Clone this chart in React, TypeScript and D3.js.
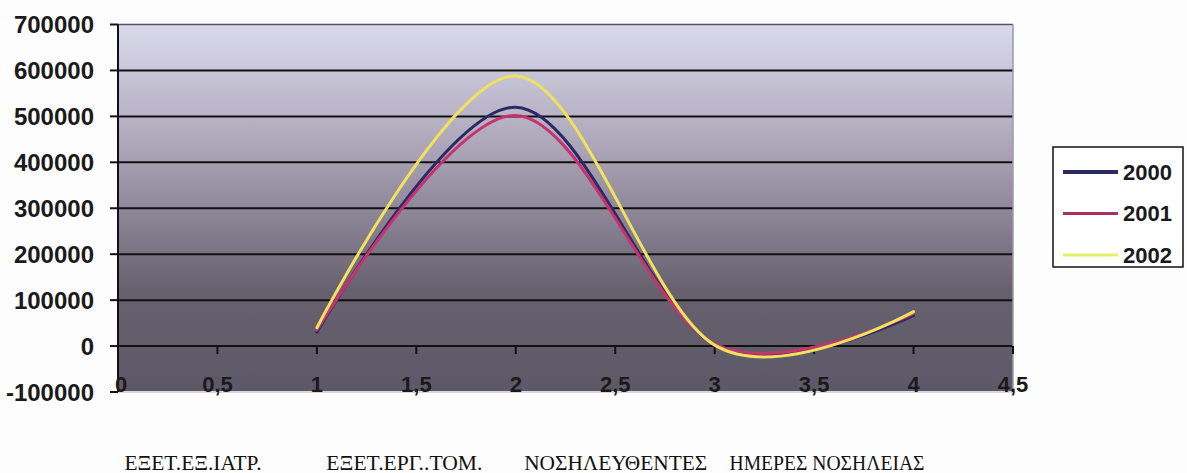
import * as d3 from 'd3';

const categories = ['ΕΞΕΤ.ΕΞ.ΙΑΤΡ.', 'ΕΞΕΤ.ΕΡΓ..ΤΟΜ.', 'ΝΟΣΗΛΕΥΘΕΝΤΕΣ', 'ΗΜΕΡΕΣ ΝΟΣΗΛΕΙΑΣ'];
const xValues = [1, 2, 3, 4];
const years = ['2000', '2001', '2002'];
const values2000 = [30000, 520000, 3000, 67000];
const values2001 = [35000, 502000, 5000, 71000];
const values2002 = [40000, 588000, 2000, 75000];
const yTicks = [700000, 600000, 500000, 400000, 300000, 200000, 100000, 0, -100000];
const xTicks = [0, 0.5, 1, 1.5, 2, 2.5, 3, 3.5, 4, 4.5];

const seriesValues = [values2000, values2001, values2002];
const colors = ['#2b2a66', '#c8336e', '#f0e25c'];
const legendColors = ['#2b2b5e', '#a8325f', '#e4f06a'];
const labelWidths = [137, 156, 183, 195];

const W = 1187;
const H = 473;
const plot = {left: 118, right: 1013, top: 24.5, bottom: 392};

export default function App() {
    const x = d3.scaleLinear().domain([0, 4.5]).range([plot.left, plot.right]);
    const y = d3.scaleLinear().domain([-100000, 700000]).range([plot.bottom, plot.top]);
    const catX = d3.scalePoint<string>().domain(categories).range([193, 827]);

    const line = d3
        .line<number>()
        .x((_, i) => x(xValues[i]))
        .y((d) => y(d))
        .curve(d3.curveCardinal.tension(0));

    const fmtX = (v: number) => String(v).replace('.', ',');

    return (
        <svg
            width={W}
            height={H}
            style={{position: 'absolute', left: 0, top: 0, background: '#fdfdfd'}}
        >
            <defs>
                <linearGradient id="bg" x1="0" y1="0" x2="0" y2="1">
                    <stop offset="0%" stopColor="#dadaec" />
                    <stop offset="35%" stopColor="#aaa3b6" />
                    <stop offset="72%" stopColor="#67616f" />
                    <stop offset="100%" stopColor="#5d5867" />
                </linearGradient>
            </defs>

            <rect
                x={plot.left}
                y={plot.top}
                width={plot.right - plot.left}
                height={plot.bottom - plot.top}
                fill="url(#bg)"
            />

            {/* gridlines */}
            {yTicks
                .filter((t) => t !== -100000)
                .map((t) => (
                    <line
                        key={t}
                        x1={plot.left}
                        x2={plot.right}
                        y1={y(t)}
                        y2={y(t)}
                        stroke={t === 700000 ? '#555566' : '#111'}
                        strokeWidth={t === 700000 ? 1.5 : 2}
                    />
                ))}
            <line x1={plot.left} x2={plot.right} y1={plot.bottom} y2={plot.bottom} stroke="#d8d8d8" strokeWidth={2} />
            <line x1={plot.right} x2={plot.right} y1={plot.top} y2={plot.bottom} stroke="#9a9aa6" strokeWidth={1.5} />

            {/* y axis */}
            <line x1={plot.left} x2={plot.left} y1={plot.top} y2={plot.bottom} stroke="#111" strokeWidth={2} />
            {yTicks.map((t) => (
                <g key={t}>
                    <line x1={plot.left - 8} x2={plot.left} y1={y(t)} y2={y(t)} stroke="#111" strokeWidth={2} />
                    <text
                        x={94}
                        y={y(t)}
                        textAnchor="end"
                        dominantBaseline="central"
                        fontFamily="Liberation Sans, Arial, sans-serif"
                        fontWeight="bold"
                        fontSize={24}
                        fill="#1a1a1a"
                    >
                        {t}
                    </text>
                </g>
            ))}

            {/* x axis ticks on the zero line */}
            {xTicks.map((t) => (
                <g key={t}>
                    {t > 0 && (
                        <line x1={x(t)} x2={x(t)} y1={y(0)} y2={y(0) + 8} stroke="#111" strokeWidth={2} />
                    )}
                    <text
                        x={x(t) + (t === 0 ? 3 : 0)}
                        y={plot.bottom}
                        textAnchor="middle"
                        fontFamily="Liberation Sans, Arial, sans-serif"
                        fontWeight="bold"
                        fontSize={22}
                        fill="#1a1a1a"
                    >
                        {fmtX(t)}
                    </text>
                </g>
            ))}

            {/* series */}
            {seriesValues.map((vals, i) => (
                <path
                    key={years[i]}
                    d={line(vals) ?? ''}
                    fill="none"
                    stroke={colors[i]}
                    strokeWidth={3}
                    strokeLinecap="round"
                />
            ))}

            {/* legend */}
            <rect x={1053} y={147} width={130} height={120} fill="#fff" stroke="#111" strokeWidth={1.5} />
            {years.map((yr, i) => (
                <g key={yr} transform={`translate(1063, ${172 + i * 41.5})`}>
                    <line x1={0} x2={55} y1={0} y2={0} stroke={legendColors[i]} strokeWidth={i === 0 ? 4 : 3} />
                    <text
                        x={60}
                        y={0}
                        dominantBaseline="central"
                        fontFamily="Liberation Sans, Arial, sans-serif"
                        fontWeight="bold"
                        fontSize={22}
                        fill="#1a1a1a"
                    >
                        {yr}
                    </text>
                </g>
            ))}

            {/* category labels */}
            {categories.map((c, i) => (
                <text
                    key={c}
                    x={catX(c)}
                    y={470}
                    textAnchor="middle"
                    fontFamily="Liberation Serif, Times New Roman, serif"
                    fontSize={20}
                    textLength={labelWidths[i]}
                    lengthAdjust="spacingAndGlyphs"
                    fill="#111"
                >
                    {c}
                </text>
            ))}
        </svg>
    );
}
